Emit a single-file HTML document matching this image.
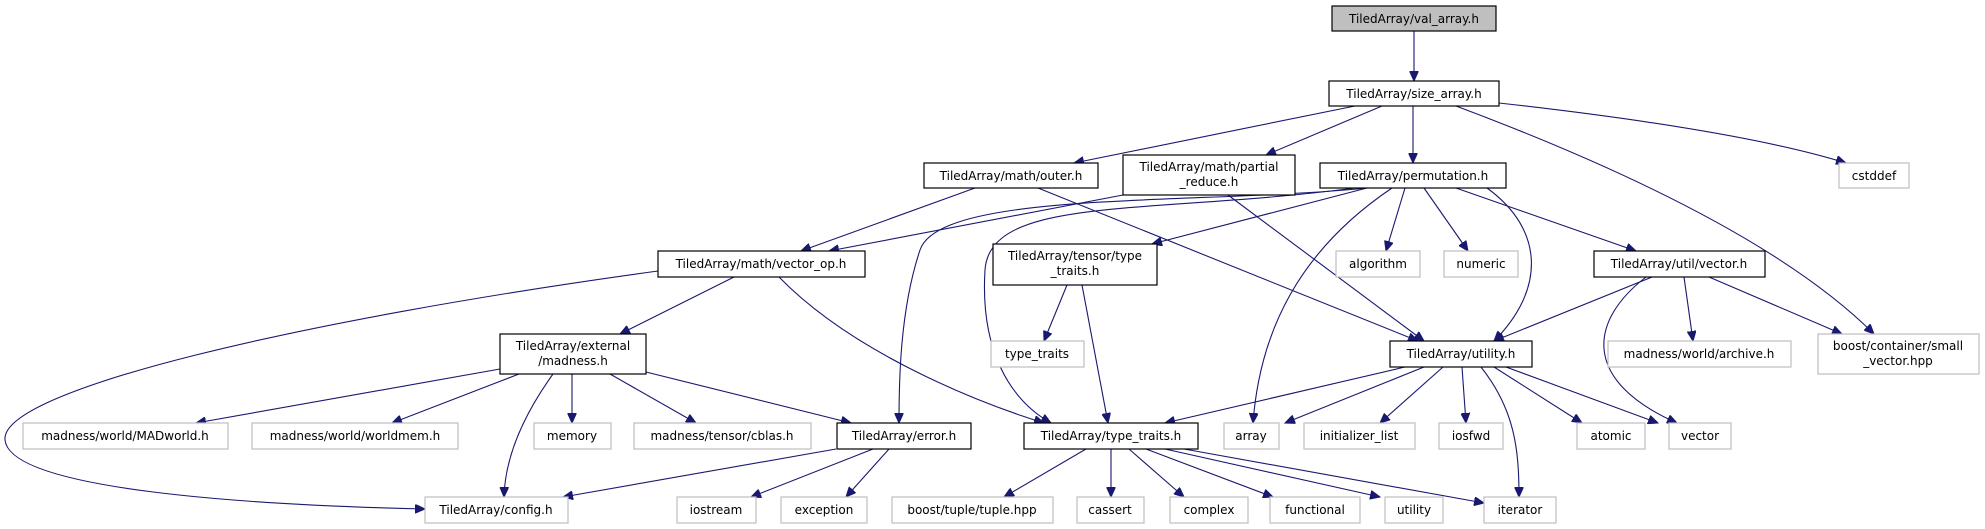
<!DOCTYPE html>
<html><head><meta charset="utf-8"><style>
html,body{margin:0;padding:0;background:#fff;}
svg{display:block;}
text{font-family:"DejaVu Sans","Liberation Sans",sans-serif;font-size:12px;fill:#000;text-anchor:middle;}
.b{fill:#fff;stroke:#000;stroke-width:1.2;}
.g{fill:#fff;stroke:#bfbfbf;stroke-width:1.2;}
.e{fill:none;stroke:#191970;stroke-width:1.1;}
</style></head><body>
<svg width="1985" height="529" viewBox="0 0 1985 529" xmlns="http://www.w3.org/2000/svg">
<defs><marker id="a" markerUnits="userSpaceOnUse" markerWidth="11" markerHeight="9" refX="10" refY="4.5" orient="auto"><path d="M0,0 L10,4.5 L0,9 z" fill="#191970" stroke="#191970"/></marker></defs>
<g class="e" marker-end="url(#a)">
<path d="M1414,31 L1414,81"/>
<path d="M1355,106 L1074,163"/>
<path d="M1382,106 L1266,155"/>
<path d="M1413,106 L1413,163"/>
<path d="M1499,103 Q1740,130 1846,163"/>
<path d="M1456,106 Q1760,220 1874,334"/>
<path d="M975,188 L801,251"/>
<path d="M1038,188 L1418,341"/>
<path d="M1123,195 L829,251"/>
<path d="M1228,195 L1424,341"/>
<path d="M1367,188 C1200,205 940,190 920,250 C900,310 899,380 899,423"/>
<path d="M1355,188 C1150,215 990,195 985,270 C980,350 1010,400 1051,423"/>
<path d="M1367,188 L1152,244"/>
<path d="M1392,188 C1300,250 1260,330 1253,423"/>
<path d="M1405,188 L1386,251"/>
<path d="M1424,188 L1468,251"/>
<path d="M1487,188 C1545,230 1545,290 1494,341"/>
<path d="M1456,188 L1636,251"/>
<path d="M658,271 C300,320 0,390 5,440 C10,490 250,505 425,509"/>
<path d="M734,277 L620,334"/>
<path d="M779,277 C850,350 970,400 1044,423"/>
<path d="M1067,285 L1044,341"/>
<path d="M1082,285 L1108,423"/>
<path d="M1652,277 L1494,341"/>
<path d="M1646,277 C1590,320 1580,380 1677,423"/>
<path d="M1684,277 L1693,341"/>
<path d="M1709,277 L1842,334"/>
<path d="M500,369 L196,423"/>
<path d="M519,374 L392,423"/>
<path d="M553,374 C520,420 505,460 504,497"/>
<path d="M572,374 L572,423"/>
<path d="M610,374 L696,423"/>
<path d="M646,372 L851,423"/>
<path d="M1405,367 L1165,423"/>
<path d="M1424,367 L1285,423"/>
<path d="M1443,367 L1380,423"/>
<path d="M1462,367 L1466,423"/>
<path d="M1481,367 C1515,410 1519,450 1519,497"/>
<path d="M1494,367 L1582,423"/>
<path d="M1506,367 L1658,423"/>
<path d="M836,449 L563,497"/>
<path d="M873,449 L751,497"/>
<path d="M889,449 L846,497"/>
<path d="M1086,449 L1004,497"/>
<path d="M1111,449 L1111,497"/>
<path d="M1129,449 L1184,497"/>
<path d="M1146,449 L1273,497"/>
<path d="M1165,449 L1380,497"/>
<path d="M1184,449 L1484,503"/>
</g>
<rect x="1332" y="6" width="164" height="25" fill="#bfbfbf" stroke="#000" stroke-width="1.2"/><text x="1414" y="23">TiledArray/val_array.h</text>
<rect class="b" x="1329" y="81" width="170" height="25"/><text x="1414" y="98">TiledArray/size_array.h</text>
<rect class="b" x="924" y="163" width="174" height="25"/><text x="1011" y="180">TiledArray/math/outer.h</text>
<rect class="b" x="1123" y="155" width="172" height="40"/><text x="1209" y="171">TiledArray/math/partial</text><text x="1209" y="186">_reduce.h</text>
<rect class="b" x="1320" y="163" width="186" height="25"/><text x="1413" y="180">TiledArray/permutation.h</text>
<rect class="g" x="1839" y="163" width="70" height="25"/><text x="1874" y="180">cstddef</text>
<rect class="b" x="658" y="251" width="207" height="26"/><text x="761" y="268">TiledArray/math/vector_op.h</text>
<rect class="b" x="993" y="244" width="164" height="41"/><text x="1075" y="260">TiledArray/tensor/type</text><text x="1075" y="275">_traits.h</text>
<rect class="g" x="1336" y="251" width="84" height="26"/><text x="1378" y="268">algorithm</text>
<rect class="g" x="1444" y="251" width="74" height="26"/><text x="1481" y="268">numeric</text>
<rect class="b" x="1594" y="251" width="171" height="26"/><text x="1679" y="268">TiledArray/util/vector.h</text>
<rect class="b" x="500" y="334" width="146" height="40"/><text x="573" y="350">TiledArray/external</text><text x="573" y="365">/madness.h</text>
<rect class="g" x="991" y="341" width="93" height="26"/><text x="1037" y="358">type_traits</text>
<rect class="b" x="1390" y="341" width="142" height="26"/><text x="1461" y="358">TiledArray/utility.h</text>
<rect class="g" x="1608" y="341" width="183" height="26"/><text x="1699" y="358">madness/world/archive.h</text>
<rect class="g" x="1818" y="334" width="161" height="40"/><text x="1898" y="350">boost/container/small</text><text x="1898" y="365">_vector.hpp</text>
<rect class="g" x="23" y="423" width="205" height="26"/><text x="125" y="440">madness/world/MADworld.h</text>
<rect class="g" x="252" y="423" width="206" height="26"/><text x="355" y="440">madness/world/worldmem.h</text>
<rect class="g" x="534" y="423" width="77" height="26"/><text x="572" y="440">memory</text>
<rect class="g" x="634" y="423" width="177" height="26"/><text x="722" y="440">madness/tensor/cblas.h</text>
<rect class="b" x="837" y="423" width="134" height="26"/><text x="904" y="440">TiledArray/error.h</text>
<rect class="b" x="1024" y="423" width="174" height="26"/><text x="1111" y="440">TiledArray/type_traits.h</text>
<rect class="g" x="1224" y="423" width="55" height="26"/><text x="1251" y="440">array</text>
<rect class="g" x="1304" y="423" width="111" height="26"/><text x="1359" y="440">initializer_list</text>
<rect class="g" x="1439" y="423" width="64" height="26"/><text x="1471" y="440">iosfwd</text>
<rect class="g" x="1577" y="423" width="68" height="26"/><text x="1611" y="440">atomic</text>
<rect class="g" x="1669" y="423" width="62" height="26"/><text x="1700" y="440">vector</text>
<rect class="g" x="425" y="497" width="143" height="26"/><text x="496" y="514">TiledArray/config.h</text>
<rect class="g" x="677" y="497" width="79" height="26"/><text x="716" y="514">iostream</text>
<rect class="g" x="781" y="497" width="86" height="26"/><text x="824" y="514">exception</text>
<rect class="g" x="892" y="497" width="161" height="26"/><text x="972" y="514">boost/tuple/tuple.hpp</text>
<rect class="g" x="1077" y="497" width="67" height="26"/><text x="1110" y="514">cassert</text>
<rect class="g" x="1170" y="497" width="78" height="26"/><text x="1209" y="514">complex</text>
<rect class="g" x="1270" y="497" width="90" height="26"/><text x="1315" y="514">functional</text>
<rect class="g" x="1385" y="497" width="58" height="26"/><text x="1414" y="514">utility</text>
<rect class="g" x="1484" y="497" width="72" height="26"/><text x="1520" y="514">iterator</text>
</svg>
</body></html>
